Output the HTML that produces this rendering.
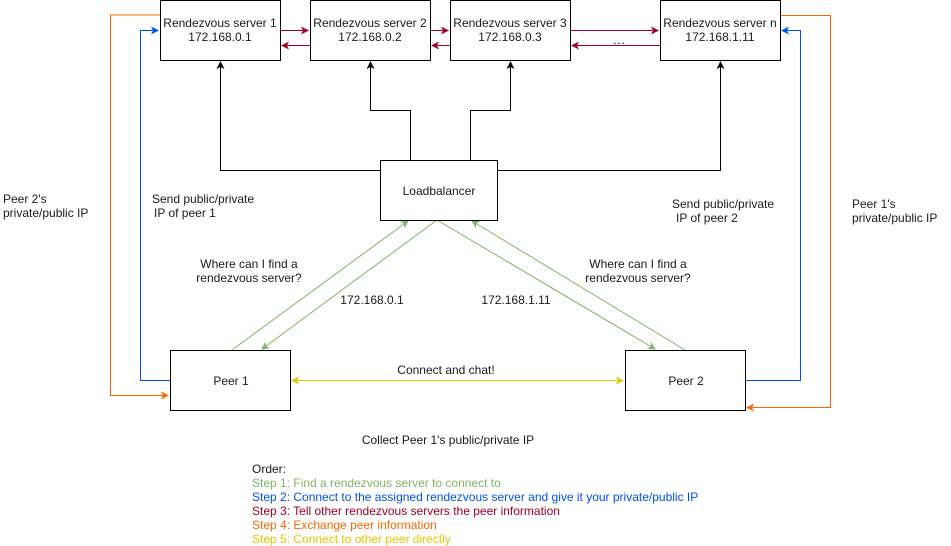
<!DOCTYPE html>
<html><head><meta charset="utf-8"><style>
html,body{margin:0;padding:0;background:#fff;}
svg{display:block;font-family:"Liberation Sans",Helvetica,Arial,sans-serif;font-size:12px;}
</style></head><body>
<svg width="951" height="546" viewBox="0 0 951 546" xmlns="http://www.w3.org/2000/svg">
<defs>
<marker id="ab" markerWidth="8" markerHeight="8" refX="7" refY="4" orient="auto" markerUnits="userSpaceOnUse"><path d="M0,0 L8,4 L0,8 L2,4 z" fill="#000"/></marker>
<marker id="ar" markerWidth="8" markerHeight="8" refX="7" refY="4" orient="auto" markerUnits="userSpaceOnUse"><path d="M0,0 L8,4 L0,8 L2,4 z" fill="#a20025"/></marker>
<marker id="abl" markerWidth="8" markerHeight="8" refX="7" refY="4" orient="auto" markerUnits="userSpaceOnUse"><path d="M0,0 L8,4 L0,8 L2,4 z" fill="#0050ef"/></marker>
<marker id="ao" markerWidth="8" markerHeight="8" refX="7" refY="4" orient="auto" markerUnits="userSpaceOnUse"><path d="M0,0 L8,4 L0,8 L2,4 z" fill="#fa6800"/></marker>
<marker id="ag" markerWidth="8" markerHeight="8" refX="7" refY="4" orient="auto" markerUnits="userSpaceOnUse"><path d="M0,0 L8,4 L0,8 L2,4 z" fill="#82b366"/></marker>
<marker id="ay" markerWidth="8" markerHeight="8" refX="7" refY="4" orient="auto" markerUnits="userSpaceOnUse"><path d="M0,0 L8,4 L0,8 L2,4 z" fill="#e3c800"/></marker>
<marker id="ays" markerWidth="8" markerHeight="8" refX="1" refY="4" orient="auto" markerUnits="userSpaceOnUse"><path d="M8,0 L0,4 L8,8 L6,4 z" fill="#e3c800"/></marker>
</defs>
<g fill="none" stroke-width="1">
<!-- orange -->
<polyline points="160,15 110.5,15 110.5,395.5 168,395.5" stroke="#fa6800" marker-end="url(#ao)"/>
<polyline points="780,15.5 830.5,15.5 830.5,407.5 747,407.5" stroke="#fa6800" marker-end="url(#ao)"/>
<!-- blue -->
<polyline points="170,380.5 140.5,380.5 140.5,30.5 158,30.5" stroke="#0050ef" marker-end="url(#abl)"/>
<polyline points="745,380.5 800.5,380.5 800.5,30.5 782,30.5" stroke="#0050ef" marker-end="url(#abl)"/>
<!-- red -->
<line x1="280" y1="30.5" x2="308" y2="30.5" stroke="#a20025" marker-end="url(#ar)"/>
<line x1="310" y1="45.5" x2="282" y2="45.5" stroke="#a20025" marker-end="url(#ar)"/>
<line x1="430" y1="30.5" x2="448" y2="30.5" stroke="#a20025" marker-end="url(#ar)"/>
<line x1="450" y1="45.5" x2="432" y2="45.5" stroke="#a20025" marker-end="url(#ar)"/>
<line x1="570" y1="30.5" x2="658" y2="30.5" stroke="#a20025" marker-end="url(#ar)"/>
<line x1="660" y1="45.5" x2="572" y2="45.5" stroke="#a20025" marker-end="url(#ar)"/>
<!-- black -->
<polyline points="380,170.5 220.5,170.5 220.5,62" stroke="#000" marker-end="url(#ab)"/>
<polyline points="410.5,160 410.5,110.5 370.5,110.5 370.5,62" stroke="#000" marker-end="url(#ab)"/>
<polyline points="470.5,160 470.5,110.5 510.5,110.5 510.5,62" stroke="#000" marker-end="url(#ab)"/>
<polyline points="497,170.5 720.5,170.5 720.5,62" stroke="#000" marker-end="url(#ab)"/>
<!-- green -->
<line x1="232" y1="350" x2="408" y2="221" stroke="#82b366" marker-end="url(#ag)"/>
<line x1="437" y1="220" x2="262" y2="349" stroke="#82b366" marker-end="url(#ag)"/>
<line x1="437" y1="220" x2="655" y2="349" stroke="#82b366" marker-end="url(#ag)"/>
<line x1="685" y1="350" x2="472" y2="221" stroke="#82b366" marker-end="url(#ag)"/>
<!-- yellow -->
<line x1="292" y1="380.5" x2="623" y2="380.5" stroke="#e3c800" marker-start="url(#ays)" marker-end="url(#ay)"/>
<!-- boxes -->
<g stroke="#000" fill="#fff">
<rect x="160.5" y="0.5" width="120" height="60"/>
<rect x="310.5" y="0.5" width="120" height="60"/>
<rect x="450.5" y="0.5" width="120" height="60"/>
<rect x="660.5" y="0.5" width="120" height="60"/>
<rect x="380.5" y="160.5" width="117" height="60"/>
<rect x="170.5" y="350.5" width="120" height="60"/>
<rect x="625.5" y="350.5" width="120" height="60"/>
</g>
</g>
<g fill="#1a1a1a" text-anchor="middle">
<text x="220" y="27">Rendezvous server 1</text><text x="220" y="41">172.168.0.1</text>
<text x="370" y="27">Rendezvous server 2</text><text x="370" y="41">172.168.0.2</text>
<text x="510" y="27">Rendezvous server 3</text><text x="510" y="41">172.168.0.3</text>
<text x="720" y="27">Rendezvous server n</text><text x="720" y="41">172.168.1.11</text>
<text x="619" y="44" font-size="13">…</text>
<text x="439" y="195">Loadbalancer</text>
<text x="231" y="385">Peer 1</text>
<text x="686" y="385">Peer 2</text>
<text x="446" y="374">Connect and chat!</text>
<text x="249" y="268">Where can I find a</text><text x="249" y="282">rendezvous server?</text>
<text x="638" y="268">Where can I find a</text><text x="638" y="282">rendezvous server?</text>
<text x="372" y="304">172.168.0.1</text>
<text x="516" y="304">172.168.1.11</text>
<text x="448" y="444">Collect Peer 1's public/private IP</text>
</g>
<g fill="#1a1a1a">
<text x="3" y="203">Peer 2's</text><text x="3" y="217">private/public IP</text>
<text x="152" y="203">Send public/private</text><text x="154" y="217">IP of peer 1</text>
<text x="672" y="208">Send public/private</text><text x="676" y="222">IP of peer 2</text>
<text x="852" y="208">Peer 1's</text><text x="852" y="222">private/public IP</text>
<text x="252" y="473">Order:</text>
<text x="252" y="487" fill="#82b366">Step 1: Find a rendezvous server to connect to</text>
<text x="252" y="501" fill="#0050ef">Step 2: Connect to the assigned rendezvous server and give it your private/public IP</text>
<text x="252" y="515" fill="#a20025">Step 3: Tell other rendezvous servers the peer information</text>
<text x="252" y="529" fill="#fa6800">Step 4: Exchange peer information</text>
<text x="252" y="543" fill="#e3c800">Step 5: Connect to other peer directly</text>
</g>
</svg>
</body></html>
